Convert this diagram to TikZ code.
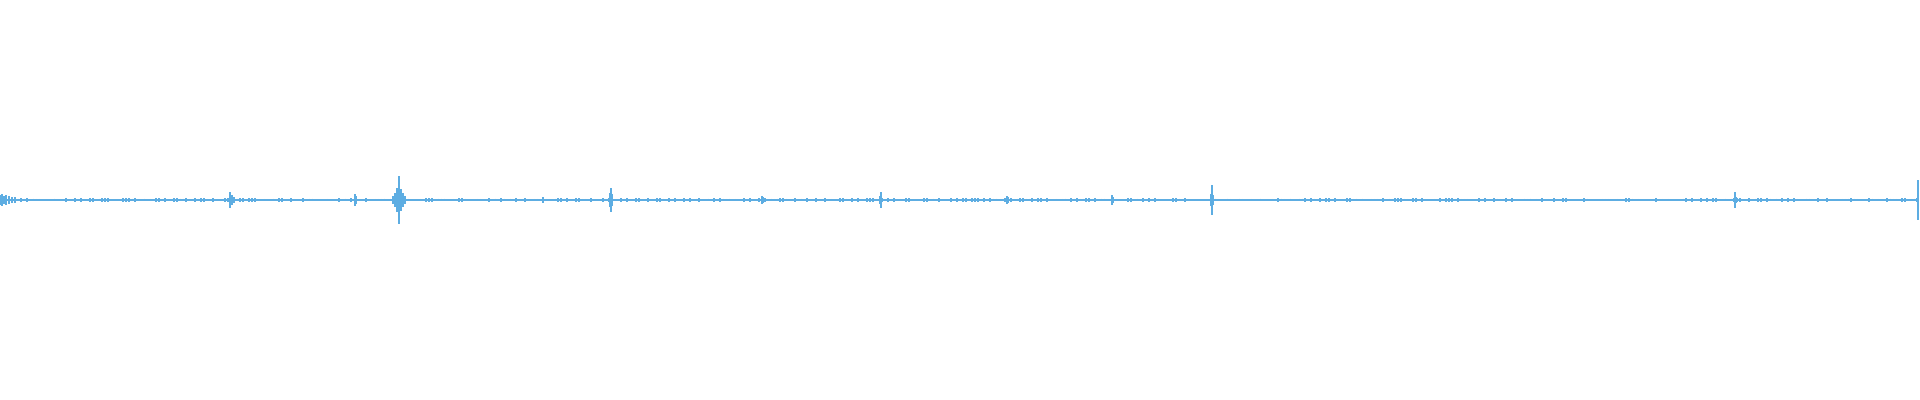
\documentclass[tikz,border=0pt]{standalone}
\definecolor{wavebl}{RGB}{93,173,226}
\tikzset{
  wave/.style={draw=wavebl,line width=0.6pt},
  spike/.style={draw=wavebl,line width=0.7pt},
}
\begin{document}
\begin{tikzpicture}[x=0.01cm,y=-0.01cm]
  \useasboundingbox (0,0) rectangle (1920,400);
  \pgfmathsetseed{7}
  % base line
  \coordinate (w0) at (0,200);
  \coordinate (w1) at (1918,200);
  \draw[wave] (w0) -- (w1);
  % background noise
  \foreach \x in {0,3,...,1917}{
    \pgfmathsetmacro{\amp}{0.4+1.6*rnd}
    \draw[wave,line width=0.4pt] (\x,200-\amp) -- (\x,200+\amp);
  }
  % louder bits at the start
  \foreach \x/\a in {0/5,2/6,4/4,6/5,9/4,12/3,15/3}{
    \draw[spike] (\x,200-\a) -- (\x,200+\a);
  }
  % events
  \foreach \x/\a in {230/8,232/5,234/3,355/6,356/4,399/24,397/12,401/11,395/7,403/7,
                     393/4,405/4,543/3,611/12,610/7,612/6,762/4,763/3,881/8,880/4,
                     1007/4,1008/3,1112/5,1113/3,1212/15,1211/6,1213/5,1735/8,1736/3,1918/20}{
    \draw[spike] (\x,200-\a) -- (\x,200+\a);
  }
\end{tikzpicture}
\end{document}
